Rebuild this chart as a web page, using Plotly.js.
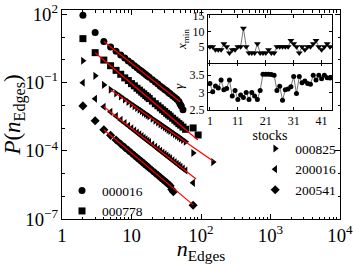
<!DOCTYPE html>
<html><head><meta charset="utf-8">
<script src="https://cdn.plot.ly/plotly-3.0.1.min.js"></script>
<style>html,body{margin:0;padding:0;background:#fff}#c{width:354px;height:264px}</style>
</head><body><div id="c"></div>
<script>
// ---- main panel data: degree distributions ----
const n16 = [2,3,4,5,6,7,8,9,10,11,12,13,14,15,16,17,18,20,22,24,26,28,30,32,34,36,39,42,45,48,50,52,55];
const p16 = [93,16,6.46,3.77,2.45,1.65,1.23,0.90,0.72,0.56,0.46,0.375,0.318,0.265,0.232,0.196,0.174,0.134,0.107,0.087,0.070,0.060,0.050,0.044,0.037,0.0325,0.0265,0.0222,0.0186,0.0150,0.0115,0.0095,0.0065];

const n778 = [2,3,4,5,6,7,8,9,10,11,12,13,14,15,16,17,18,20,22,24,26,28,30,32,34,36,39,42,45,48,51,55,60,77,91];
const p778 = [8.7,2.1,0.99,0.56,0.35,0.235,0.163,0.124,0.091,0.073,0.057,0.047,0.0385,0.0326,0.0272,0.0236,0.0200,0.0155,0.0119,0.0096,0.0078,0.0064,0.0054,0.0045,0.0039,0.00335,0.00273,0.00224,0.00189,0.00158,0.00136,0.00111,0.00089,0.00102,0.0005];

const n825 = [2,3,4,5,6,7,8,9,10,11,12,13,14,15,16,17,18,20,22,24,26,28,30,32,34,36,39,42,45,48,51,55,60,77,149];
const p825 = [0.93,0.2,0.08,0.049,0.034,0.0245,0.0183,0.0143,0.0113,0.0093,0.0077,0.0065,0.0056,0.0048,0.0042,0.0037,0.0033,0.0026,0.00213,0.00177,0.0015,0.00127,0.0011,0.00096,0.00084,0.00075,0.00063,0.00054,0.000465,0.000405,0.000355,0.0003,0.00025,0.000081,0.000032];

const n200016 = [2,3,4,5,6,7,8,9,10,11,12,13,14,15,16,17,18,20,22,24,26,28,30,32,34,36,39,42,45,48,51,55,60,77];
const p200016 = [0.1,0.0195,0.0087,0.0052,0.0034,0.0023,0.00168,0.00128,0.00099,0.00079,0.00064,0.00053,0.000445,0.000376,0.000322,0.00028,0.000243,0.00019,0.000151,0.000122,0.000101,0.000085,0.000072,0.000062,0.0000535,0.0000465,0.0000385,0.0000322,0.0000272,0.0000233,0.00002,0.0000168,0.0000137,0.0000039];

const n200541 = [2,3,4,5,6,7,8,9,10,11,12,13,14,15,16,17,18,20,22,24,26,28,30,32,34,36,38,40,77];
const p200541 = [0.0095,0.0021,0.00085,0.00048,0.0003,0.0002,0.000142,0.000105,0.00008,0.0000627,0.00005,0.0000406,0.0000336,0.0000281,0.0000238,0.0000204,0.0000176,0.0000134,0.0000105,0.0000084,0.0000068,0.0000056,0.0000047,0.000004,0.0000034,0.0000029,0.000002,0.0000016,0.0000004];

// fitted power-law lines: [start n, start P, end n, end P]
const fit16 = [4, 6.46, 50, 0.0145];
const fit778 = [3, 2.09, 90, 0.0003];
const fit825 = [5, 0.049, 149, 0.000036];
const fit200016 = [4, 0.0087, 85, 0.0000058];
const fit200541 = [4, 0.00085, 77, 0.00000042];

// ---- inset data ----
const stocks = [1,2,3,4,5,6,7,8,9,10,11,12,13,14,15,16,17,18,19,20,21,22,23,24,25,26,27,28,29,30,31,32,33,34,35,36,37,38,39,40,41,42,43,44];
const xminVals = [5,5,4,4,4,6,5,3,4,4,5,5,11,5,3,3,3,6,3,3,3,4,3,3,5,5,5,5,5,7,6,5,3,5,4,5,5,6,7,5,4,5,6,5];
const gammaVals = [3.26,3.02,3.19,3.13,3.36,3.08,3.12,3.36,2.9,3.06,2.8,2.93,2.86,3.0,2.8,3.0,2.9,2.8,3.06,3.53,3.53,3.53,3.52,3.5,3.06,3.18,2.78,3.08,3.1,3.17,3.46,2.97,3.46,3.28,3.33,3.26,3.24,3.5,3.36,3.5,3.4,3.5,3.43,3.42];
const insetTicks = [1,11,21,31,41];

const SERIF = 'Liberation Serif, DejaVu Serif, serif';
const series = [
  {name:'000016', x:n16, y:p16, sym:'circle', fit:fit16, leg:'legend'},
  {name:'000778', x:n778, y:p778, sym:'square', fit:fit778, leg:'legend'},
  {name:'000825', x:n825, y:p825, sym:'triangle-right', fit:fit825, leg:'legend2'},
  {name:'200016', x:n200016, y:p200016, sym:'triangle-left', fit:fit200016, leg:'legend2'},
  {name:'200541', x:n200541, y:p200541, sym:'diamond', fit:fit200541, leg:'legend2'}
];
const traces = [];
series.forEach(s => {
  traces.push({x:s.x, y:s.y, type:'scatter', mode:'markers', name:s.name, legend:s.leg,
    marker:{symbol:s.sym, color:'black', size:7, line:{width:0}}});
});
series.forEach(s => {
  traces.push({x:[s.fit[0], s.fit[2]], y:[s.fit[1], s.fit[3]], type:'scatter', mode:'lines',
    showlegend:false, line:{color:'red', width:1.2}, hoverinfo:'skip'});
});
traces.push({x:stocks, y:gammaVals, xaxis:'x2', yaxis:'y2', type:'scatter', mode:'lines+markers',
  showlegend:false, line:{color:'#555', width:0.8}, marker:{symbol:'circle', size:5, color:'black'}});
traces.push({x:stocks, y:xminVals, xaxis:'x3', yaxis:'y3', type:'scatter', mode:'lines+markers',
  showlegend:false, line:{color:'#555', width:0.8}, marker:{symbol:'triangle-down', size:6, color:'black'}});

const baseAx = {showline:true, linecolor:'black', linewidth:1, mirror:'allticks', ticks:'inside',
  tickcolor:'black', showgrid:false, zeroline:false};
const insetDomX = [0.525, 0.971];
const layout = {
  width:354, height:264, margin:{l:62, r:14, t:10, b:45},
  paper_bgcolor:'white', plot_bgcolor:'white', showlegend:true,
  font:{family:SERIF, color:'black'},
  xaxis:Object.assign({}, baseAx, {type:'log', range:[0,4], dtick:1, exponentformat:'power', ticklen:5,
    tickfont:{family:SERIF, size:15},
    minor:{ticks:'inside', ticklen:2.5, tickcolor:'black', dtick:'D1', showgrid:false},
    title:{text:'<i>n</i><sub>Edges</sub>', font:{family:SERIF, size:22}, standoff:4}}),
  yaxis:Object.assign({}, baseAx, {type:'log', range:[-7,2.2], tick0:-7, dtick:3, exponentformat:'power', ticklen:5,
    tickfont:{family:SERIF, size:15},
    minor:{ticks:'inside', ticklen:2.5, tickcolor:'black', dtick:1, showgrid:false},
    title:{text:'<i>P</i>(<i>n</i><sub>Edges</sub>)', font:{family:SERIF, size:23}, standoff:2}}),
  xaxis2:Object.assign({}, baseAx, {domain:insetDomX, anchor:'y2', range:[0.3,44.7], tickvals:insetTicks,
    ticklen:3, tickfont:{family:SERIF, size:12},
    title:{text:'stocks', font:{family:SERIF, size:14}, standoff:0}}),
  yaxis2:Object.assign({}, baseAx, {domain:[0.522,0.746], anchor:'x2', range:[2.5,3.85], tickvals:[2.5,3,3.5],
    ticktext:['2.5','3','3.5'], ticklen:3, tickfont:{family:SERIF, size:12},
    title:{text:'<i>γ</i>', font:{family:SERIF, size:13}, standoff:2}}),
  xaxis3:Object.assign({}, baseAx, {domain:insetDomX, anchor:'y3', matches:'x2', tickvals:insetTicks,
    showticklabels:false, ticklen:3}),
  yaxis3:Object.assign({}, baseAx, {domain:[0.746,0.976], anchor:'x3', range:[-0.3,15.3], tickvals:[5,10,15],
    ticklen:3, tickfont:{family:SERIF, size:12},
    title:{text:'<i>x</i><sub>min</sub>', font:{family:SERIF, size:13}, standoff:2}}),
  legend:{x:0.0, y:0.21, xanchor:'left', yanchor:'top', bgcolor:'rgba(0,0,0,0)', itemwidth:30,
    font:{family:SERIF, size:13.5}, tracegroupgap:0},
  legend2:{x:0.695, y:0.41, xanchor:'left', yanchor:'top', bgcolor:'rgba(0,0,0,0)', itemwidth:30,
    font:{family:SERIF, size:13.5}, tracegroupgap:0}
};
Plotly.newPlot('c', traces, layout, {displayModeBar:false, staticPlot:true});
</script>
</body></html>
